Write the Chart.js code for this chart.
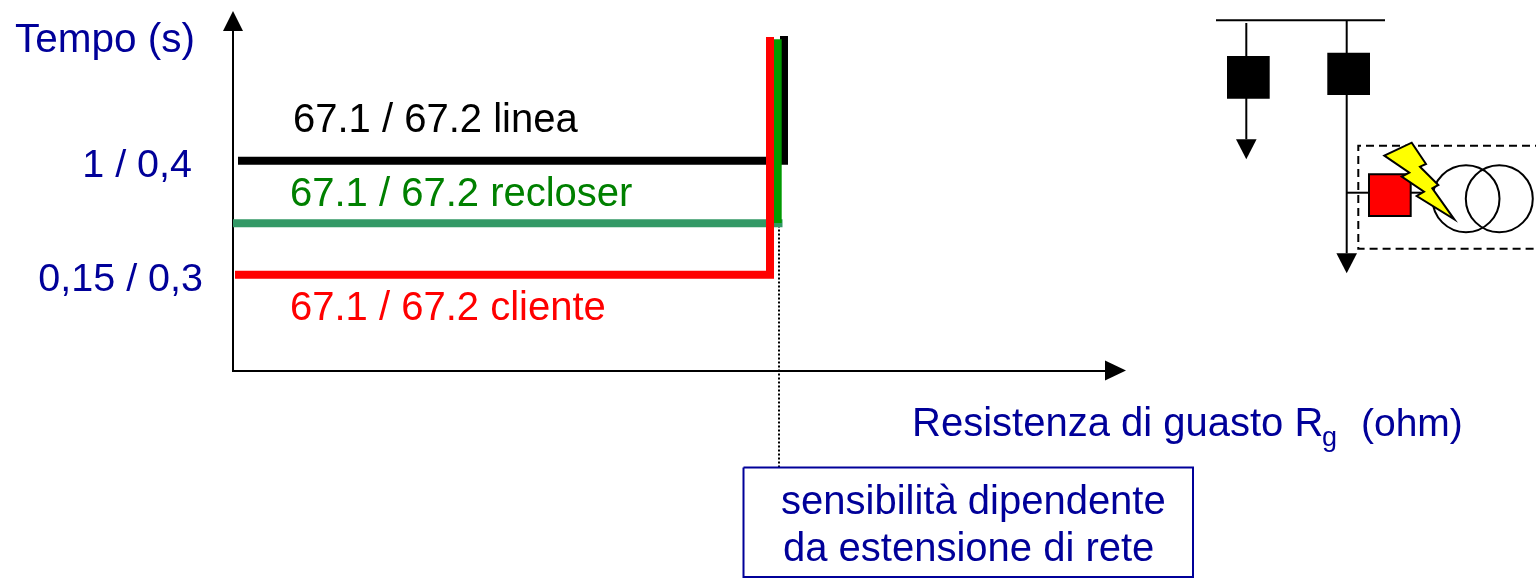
<!DOCTYPE html>
<html>
<head>
<meta charset="utf-8">
<title>Tempo / Resistenza di guasto</title>
<script src="https://cdn.jsdelivr.net/npm/chart.js@4"></script>
<style>
    html, body { margin: 0; padding: 0; background: #ffffff; overflow: hidden; }
    canvas { display: block; }
</style>
</head>
<body>
<canvas id="chart" width="1536" height="578"></canvas>
<script>
// ───────────────────────── DATA (axis units, origin at the crossing of the axes) ─────────────────────────
const lineaX = [5, 551, 551];
const lineaY = [209.7, 209.7, 334.5];
const recloserOrizzX = [0, 549.5];
const recloserOrizzY = [147.2, 147.2];
const recloserVertX = [544.7, 544.7];
const recloserVertY = [147.5, 331.2];
const clienteX = [2, 537, 537];
const clienteY = [95.7, 95.7, 333.5];
const sogliaX = [546, 546];
const sogliaY = [145, -97.5];
const boxX = [510.5, 960, 960, 510.5, 510.5];
const boxY = [-97, -97, -206.5, -206.5, -97];

const tickValues = [209.7, 95.7];
const tickLabels = ["1 / 0,4 ", "0,15 / 0,3"];

// ───────────────────────── SCHEMA (same units) ─────────────────────────
const busbar = [[983, 350.2], [1152, 350.2]];
const feederL = [[1013.3, 347.5], [1013.3, 231.2]];
const feederR = [[1113.7, 350.2], [1113.7, 117.2]];
const branchIn = [[1113.7, 177.8], [1136, 177.8]];
const branchOut = [[1177.7, 177.8], [1188.7, 177.8]];
const squareL = [[994, 314.5], [1036.7, 314.5], [1036.7, 271.8], [994, 271.8]];
const squareR = [[1094.3, 317.8], [1137, 317.8], [1137, 275.5], [1094.3, 275.5]];
const squareRed = [[1136, 196.2], [1177.7, 196.2], [1177.7, 154.5], [1136, 154.5]];
const arrowL = [[1003, 231.2], [1023.6, 231.2], [1013.3, 211.2]];
const arrowR = [[1103.4, 117.2], [1124, 117.2], [1113.7, 97.2]];
const arrowAxisY = [[-10, 339.5], [10, 339.5], [0, 359.5]];
const arrowAxisX = [[872, 10], [872, -10], [893, 0]];
const dashedBox = [[1310, 224.8], [1125.3, 224.8], [1125.3, 121.8], [1310, 121.8]];
const windings = [[1233, 171.8, 33.5], [1266.3, 171.8, 33.5]];
const lightning = [[1151.3, 214.8], [1178.7, 227.8], [1193, 206.5], [1187, 203.8], [1205.3, 185.5], [1199.3, 182.2],
    [1221.3, 151.2], [1183.7, 174.5], [1191, 178.8], [1168.7, 193.8], [1176.3, 197.8]];

// ───────────────────────── TEXT ─────────────────────────
const BLUE = "#000099";
const FONT = '"Liberation Sans", Arial, sans-serif';
const labels = [
    { text: "Tempo (s)", x: -218, y: 319, size: 40.5, color: BLUE },
    { text: "67.1 / 67.2 linea", x: 60, y: 238.5, size: 40, color: "#000000" },
    { text: "67.1 / 67.2 recloser", x: 57, y: 164.5, size: 40, color: "#008000" },
    { text: "67.1 / 67.2 cliente", x: 57, y: 50.5, size: 40, color: "#ff0000" },
    { text: "Resistenza di guasto R", x: 679, y: -65.5, size: 40, color: BLUE },
    { text: "g", x: 1089, y: -75.5, size: 27, color: BLUE },
    { text: "(ohm)", x: 1128, y: -65.5, size: 39, color: BLUE },
    { text: "sensibilità dipendente", x: 548, y: -143.5, size: 40, color: BLUE },
    { text: "da estensione di rete", x: 550, y: -190.5, size: 40, color: BLUE },
];

// ───────────────────────── HELPERS ─────────────────────────
const toPoints = (xs, ys) => xs.map((x, i) => ({ x, y: ys[i] }));

function lineSet(xs, ys, color, width, dash) {
    return {
        data: toPoints(xs, ys),
        showLine: true,
        borderColor: color,
        backgroundColor: color,
        borderWidth: width,
        borderDash: dash || [],
        borderJoinStyle: "miter",
        borderCapStyle: "butt",
        pointRadius: 0,
        tension: 0,
        clip: false,
    };
}

// ───────────────────────── SCHEMA + LABELS PLUGIN ─────────────────────────
const overlay = {
    id: "overlay",
    afterDraw(chart) {
        const { ctx, scales } = chart;
        const px = v => scales.x.getPixelForValue(v);
        const py = v => scales.y.getPixelForValue(v);

        const path = (pts, close) => {
            ctx.beginPath();
            pts.forEach((p, i) => i ? ctx.lineTo(px(p[0]), py(p[1])) : ctx.moveTo(px(p[0]), py(p[1])));
            if (close) ctx.closePath();
        };
        const stroke = (pts, width, dash) => {
            path(pts, false);
            ctx.setLineDash(dash || []);
            ctx.lineWidth = width;
            ctx.strokeStyle = "#000000";
            ctx.stroke();
            ctx.setLineDash([]);
        };
        const fill = (pts, color, outline) => {
            path(pts, true);
            ctx.fillStyle = color;
            ctx.fill();
            if (outline) {
                ctx.lineWidth = outline;
                ctx.strokeStyle = "#000000";
                ctx.lineJoin = "miter";
                ctx.stroke();
            }
        };

        ctx.save();

        // axis arrows
        fill(arrowAxisY, "#000000");
        fill(arrowAxisX, "#000000");

        // network
        stroke(busbar, 2);
        stroke(feederL, 2);
        stroke(feederR, 2);
        stroke(dashedBox, 2, [8, 5]);
        stroke(branchIn, 2);
        stroke(branchOut, 2);
        fill(squareL, "#000000");
        fill(squareR, "#000000");
        fill(arrowL, "#000000");
        fill(arrowR, "#000000");
        windings.forEach(w => {
            ctx.beginPath();
            ctx.arc(px(w[0]), py(w[1]), w[2], 0, Math.PI * 2);
            ctx.lineWidth = 2;
            ctx.strokeStyle = "#000000";
            ctx.stroke();
        });
        fill(squareRed, "#ff0000", 2);
        fill(lightning, "#ffff00", 2);

        // labels
        ctx.textAlign = "left";
        ctx.textBaseline = "alphabetic";
        labels.forEach(l => {
            ctx.font = l.size + "px " + FONT;
            ctx.fillStyle = l.color;
            ctx.fillText(l.text, px(l.x), py(l.y));
        });

        ctx.restore();
    }
};

// ───────────────────────── CHART SETUP ─────────────────────────
new Chart(document.getElementById("chart").getContext("2d"), {
    type: "scatter",
    data: {
        datasets: [
            lineSet(sogliaX, sogliaY, "#000000", 2, [2, 2]),
            lineSet(boxX, boxY, BLUE, 2),
            lineSet(lineaX, lineaY, "#000000", 8),
            lineSet(recloserOrizzX, recloserOrizzY, "#339966", 8),
            lineSet(recloserVertX, recloserVertY, "#009900", 8),
            lineSet(clienteX, clienteY, "#ff0000", 8),
        ].reverse()
    },
    options: {
        responsive: false,
        animation: false,
        // axes stop at the base of their arrow heads, the heads are drawn past the scale maximum
        layout: { padding: { top: 21, right: 423, bottom: 207.5, left: 0 } },
        scales: {
            x: {
                type: "linear",
                min: 0,
                max: 880,
                afterFit: s => { s.height = 0; s.paddingLeft = 0; s.paddingRight = 0; },
                ticks: { display: false },
                grid: { display: false },
                border: { color: "#000000", width: 2 },
            },
            y: {
                type: "linear",
                min: 0,
                max: 349.5,
                // the tick labels must not push the axis away from the top of the page
                afterFit: s => { s.width = 233; s.paddingTop = 0; s.paddingBottom = 0; },
                afterBuildTicks: s => { s.ticks = tickValues.map(value => ({ value })); },
                ticks: {
                    autoSkip: false,
                    maxRotation: 0,
                    padding: 30,
                    labelOffset: 5,
                    color: BLUE,
                    font: { family: FONT, size: 39.5 },
                    callback: (value) => tickLabels[tickValues.indexOf(value)],
                },
                grid: { display: false, drawTicks: false },
                border: { color: "#000000", width: 2 },
            },
        },
        plugins: {
            legend: { display: false },
            tooltip: { enabled: false },
        },
    },
    plugins: [overlay],
});
</script>
</body>
</html>
